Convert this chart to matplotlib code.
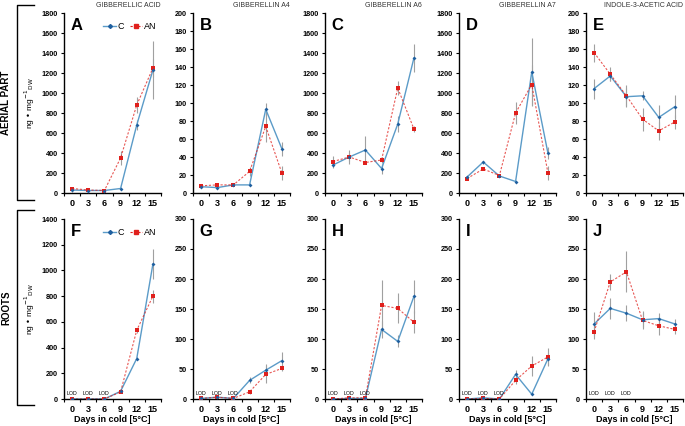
import matplotlib

matplotlib.use("Agg")
import matplotlib.pyplot as plt
from matplotlib.lines import Line2D
import numpy as np

plt.rcParams["font.family"] = ["Liberation Sans", "DejaVu Sans"]

DAYS = [0, 3, 6, 9, 12, 15]
LETTERS = ["A", "B", "C", "D", "E", "F", "G", "H", "I", "J"]
TITLES = ["GIBBERELLIC ACID", "GIBBERELLIN A4", "GIBBERELLIN A6", "GIBBERELLIN A7",
          "INDOLE-3-ACETIC ACID"]
YMAX = [1800, 200, 1800, 1800, 200, 1400, 300, 300, 300, 300]
YSTEP = [200, 20, 200, 200, 20, 200, 50, 50, 50, 50]

# control (C) means and errors, panels A..J
C_MEAN = [
    [30, 25, 25, 45, 680, 1230],
    [7, 6, 9, 9, 93, 49],
    [280, 360, 430, 245, 690, 1350],
    [160, 310, 170, 115, 1210, 400],
    [116, 130, 107, 108, 84, 96],
    [0, 0, 0, 60, 315, 1050],
    [1, 3, 1, 31, 48, 64],
    [0, 1, 1, 116, 96, 171],
    [0, 2, 0, 41, 8, 67],
    [125, 151, 143, 132, 134, 125],
]
C_ERR = [
    [15, 5, 5, 10, 50, 290],
    [1, 1, 1, 1, 7, 8],
    [20, 70, 140, 50, 80, 140],
    [10, 15, 10, 5, 340, 60],
    [11, 5, 10, 5, 14, 13],
    [0, 0, 0, 5, 10, 120],
    [0, 0, 0, 5, 10, 15],
    [0, 0, 0, 14, 10, 27],
    [0, 0, 0, 7, 2, 10],
    [20, 17, 13, 12, 9, 8],
]
# anoxia-treated (AN)
AN_MEAN = [
    [45, 30, 25, 350, 880, 1250],
    [8, 9, 9, 24, 74, 22],
    [315, 360, 305, 330, 1050, 640],
    [145, 240, 175, 800, 1085, 200],
    [156, 132, 108, 82, 69, 79],
    [0, 0, 0, 55, 535, 800],
    [1, 3, 1, 12, 41, 51],
    [0, 2, 2, 156, 151, 128],
    [0, 1, 0, 31, 55, 70],
    [112, 195, 212, 131, 122, 116],
]
AN_ERR = [
    [20, 10, 5, 70, 80, 90],
    [1, 1, 1, 5, 17, 8],
    [60, 40, 10, 30, 70, 30],
    [10, 10, 10, 110, 200, 70],
    [10, 8, 12, 13, 10, 8],
    [0, 0, 0, 5, 20, 50],
    [0, 0, 0, 3, 14, 5],
    [0, 0, 0, 42, 25, 18],
    [0, 0, 0, 6, 17, 15],
    [12, 14, 34, 15, 15, 7],
]
LOD_DAYS = [0, 3, 6]

C_LINE = "#5b9bc8"
C_MARK = "#1f5f9f"
AN_COLOR = "#e0201c"
ERR_COLOR = "#a0a0a0"

W, H = 685, 426
LEFTS = [64, 193, 325, 459, 586]
WIDTHS = [97, 97, 97, 97, 97]
ROW_TOP = [13, 219]
ROW_H = 180

fig = plt.figure(figsize=(W / 100, H / 100), dpi=100)

for i in range(10):
    row, col = divmod(i, 5)
    ax = fig.add_axes([LEFTS[col] / W, 1 - (ROW_TOP[row] + ROW_H) / H,
                       WIDTHS[col] / W, ROW_H / H])
    x = np.array(DAYS, dtype=float)
    ce, ae = np.array(C_ERR[i], float), np.array(AN_ERR[i], float)
    cm, am = np.array(C_MEAN[i], float), np.array(AN_MEAN[i], float)
    ax.errorbar(x, cm, yerr=np.where(ce > 0, ce, np.nan), fmt="none",
                ecolor=ERR_COLOR, elinewidth=0.8, capsize=0, zorder=1)
    ax.errorbar(x, am, yerr=np.where(ae > 0, ae, np.nan), fmt="none",
                ecolor=ERR_COLOR, elinewidth=0.8, capsize=0, zorder=1)
    ax.plot(x, cm, "-", color=C_LINE, lw=1.0, zorder=2)
    ax.plot(x, cm, "D", color=C_MARK, ms=2.0, mew=0, zorder=4)
    ax.plot(x, am, "--", color=AN_COLOR, lw=0.8, dashes=(2, 1.5), alpha=0.75, zorder=2)
    ax.plot(x, am, "s", color=AN_COLOR, ms=2.4, mew=0, zorder=3)

    ax.set_xlim(-1.5, 16.5)
    ax.set_ylim(0, YMAX[i])
    ax.set_yticks(np.arange(0, YMAX[i] + 1, YSTEP[i]))
    ax.set_xticks(DAYS)
    ax.set_xticks(np.arange(-1.5, 16.6, 3), minor=True)
    ax.tick_params(axis="x", which="major", length=0, pad=4, labelsize=6.5)
    ax.tick_params(axis="x", which="minor", length=2.5, width=0.8, direction="out")
    ax.tick_params(axis="y", length=2.5, width=0.8, pad=2, labelsize=5.2)
    for lab in ax.get_xticklabels() + ax.get_yticklabels():
        lab.set_fontweight("bold")
    for side in ("top", "right"):
        ax.spines[side].set_visible(False)
    for side in ("left", "bottom"):
        ax.spines[side].set_linewidth(1.0)

    ax.text(0.07, 0.975, LETTERS[i], transform=ax.transAxes, fontsize=12,
            fontweight="bold", ha="left", va="top")

    if row == 0:
        ax.set_title(TITLES[col], loc="right", fontsize=5, pad=4, color="#333333")
    else:
        ax.set_xlabel("Days in cold [5°C]", fontsize=6.5, fontweight="bold", labelpad=1)
        for d in LOD_DAYS:
            ax.text(d, YMAX[i] * 0.015, "LOD", fontsize=3.8, ha="center", va="bottom")

    if col == 0:
        ax.set_ylabel(r"ng • mg$^{-1}$$_{\mathrm{DW}}$", fontsize=6)
        ax.yaxis.set_label_coords((37 - LEFTS[0]) / WIDTHS[0], 0.5)
        handles = [
            Line2D([], [], color=C_LINE, lw=1.0, marker="D", ms=2.0,
                   mfc=C_MARK, mec=C_MARK),
            Line2D([], [], color=AN_COLOR, lw=0.8, ls=(0, (2, 1.5)), marker="s",
                   ms=2.4, mfc=AN_COLOR, mec=AN_COLOR),
        ]
        ax.legend(handles, ["C", "AN"], loc="upper right", bbox_to_anchor=(1.02, 0.985),
                  ncol=2, frameon=False, fontsize=6.5, handlelength=1.4,
                  handletextpad=0.2, columnspacing=0.6, borderpad=0.2)

# row brackets and labels
for (y0, y1), label in (((5, 200), "AERIAL PART"), ((210, 405), "ROOTS")):
    fig.add_artist(Line2D([34 / W, 17 / W, 17 / W, 34 / W],
                          [1 - y0 / H, 1 - y0 / H, 1 - y1 / H, 1 - y1 / H],
                          color="black", lw=1.0))
    fig.text(6 / W, 1 - (y0 + y1) / 2 / H, label, rotation=90, fontsize=7,
             fontweight="bold", ha="center", va="center")

fig.savefig("out.png", dpi=100)
